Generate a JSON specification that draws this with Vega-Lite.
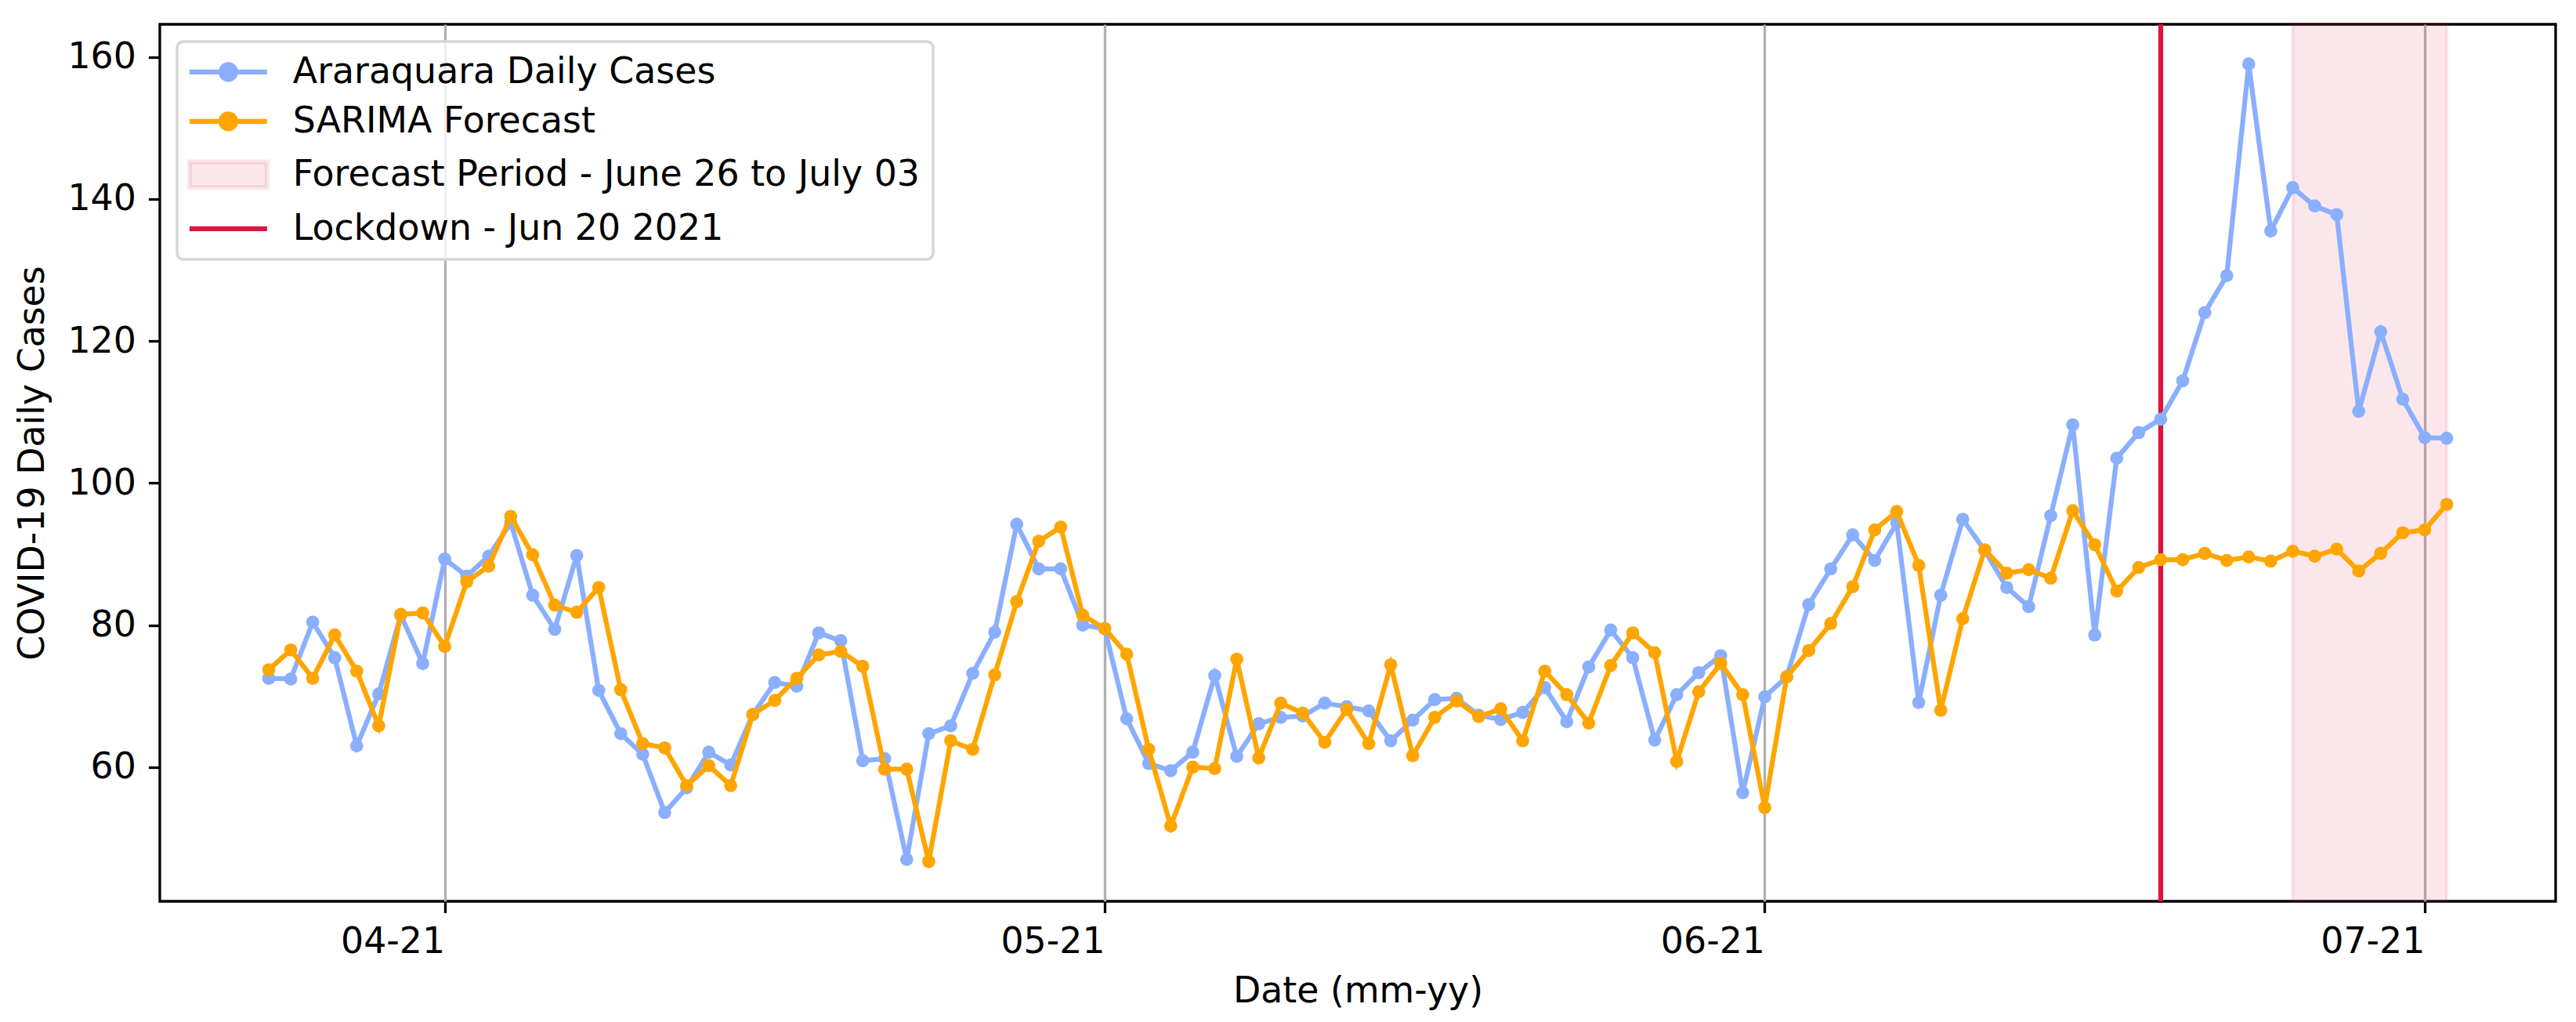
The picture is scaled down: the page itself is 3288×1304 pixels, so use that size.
{
  "$schema": "https://vega.github.io/schema/vega-lite/v6.json",
  "width": 3058,
  "height": 1119,
  "autosize": {"type": "none"},
  "padding": {"left": 204, "top": 31, "right": 26, "bottom": 154},
  "background": "white",
  "datasets": {
    "obs": [
      {"date": "2021-03-26", "value": 72.5, "series": "Araraquara Daily Cases"},
      {"date": "2021-03-27", "value": 72.4, "series": "Araraquara Daily Cases"},
      {"date": "2021-03-28", "value": 80.4, "series": "Araraquara Daily Cases"},
      {"date": "2021-03-29", "value": 75.4, "series": "Araraquara Daily Cases"},
      {"date": "2021-03-30", "value": 63.0, "series": "Araraquara Daily Cases"},
      {"date": "2021-03-31", "value": 70.3, "series": "Araraquara Daily Cases"},
      {"date": "2021-04-01", "value": 81.4, "series": "Araraquara Daily Cases"},
      {"date": "2021-04-02", "value": 74.6, "series": "Araraquara Daily Cases"},
      {"date": "2021-04-03", "value": 89.3, "series": "Araraquara Daily Cases"},
      {"date": "2021-04-04", "value": 86.9, "series": "Araraquara Daily Cases"},
      {"date": "2021-04-05", "value": 89.7, "series": "Araraquara Daily Cases"},
      {"date": "2021-04-06", "value": 94.4, "series": "Araraquara Daily Cases"},
      {"date": "2021-04-07", "value": 84.2, "series": "Araraquara Daily Cases"},
      {"date": "2021-04-08", "value": 79.4, "series": "Araraquara Daily Cases"},
      {"date": "2021-04-09", "value": 89.8, "series": "Araraquara Daily Cases"},
      {"date": "2021-04-10", "value": 70.8, "series": "Araraquara Daily Cases"},
      {"date": "2021-04-11", "value": 64.7, "series": "Araraquara Daily Cases"},
      {"date": "2021-04-12", "value": 61.8, "series": "Araraquara Daily Cases"},
      {"date": "2021-04-13", "value": 53.6, "series": "Araraquara Daily Cases"},
      {"date": "2021-04-14", "value": 57.1, "series": "Araraquara Daily Cases"},
      {"date": "2021-04-15", "value": 62.1, "series": "Araraquara Daily Cases"},
      {"date": "2021-04-16", "value": 60.3, "series": "Araraquara Daily Cases"},
      {"date": "2021-04-17", "value": 67.4, "series": "Araraquara Daily Cases"},
      {"date": "2021-04-18", "value": 71.9, "series": "Araraquara Daily Cases"},
      {"date": "2021-04-19", "value": 71.4, "series": "Araraquara Daily Cases"},
      {"date": "2021-04-20", "value": 78.9, "series": "Araraquara Daily Cases"},
      {"date": "2021-04-21", "value": 77.8, "series": "Araraquara Daily Cases"},
      {"date": "2021-04-22", "value": 60.9, "series": "Araraquara Daily Cases"},
      {"date": "2021-04-23", "value": 61.2, "series": "Araraquara Daily Cases"},
      {"date": "2021-04-24", "value": 47.0, "series": "Araraquara Daily Cases"},
      {"date": "2021-04-25", "value": 64.7, "series": "Araraquara Daily Cases"},
      {"date": "2021-04-26", "value": 65.8, "series": "Araraquara Daily Cases"},
      {"date": "2021-04-27", "value": 73.2, "series": "Araraquara Daily Cases"},
      {"date": "2021-04-28", "value": 79.0, "series": "Araraquara Daily Cases"},
      {"date": "2021-04-29", "value": 94.2, "series": "Araraquara Daily Cases"},
      {"date": "2021-04-30", "value": 87.9, "series": "Araraquara Daily Cases"},
      {"date": "2021-05-01", "value": 87.9, "series": "Araraquara Daily Cases"},
      {"date": "2021-05-02", "value": 80.0, "series": "Araraquara Daily Cases"},
      {"date": "2021-05-03", "value": 79.5, "series": "Araraquara Daily Cases"},
      {"date": "2021-05-04", "value": 66.8, "series": "Araraquara Daily Cases"},
      {"date": "2021-05-05", "value": 60.5, "series": "Araraquara Daily Cases"},
      {"date": "2021-05-06", "value": 59.5, "series": "Araraquara Daily Cases"},
      {"date": "2021-05-07", "value": 62.1, "series": "Araraquara Daily Cases"},
      {"date": "2021-05-08", "value": 72.9, "series": "Araraquara Daily Cases"},
      {"date": "2021-05-09", "value": 61.5, "series": "Araraquara Daily Cases"},
      {"date": "2021-05-10", "value": 66.1, "series": "Araraquara Daily Cases"},
      {"date": "2021-05-11", "value": 67.0, "series": "Araraquara Daily Cases"},
      {"date": "2021-05-12", "value": 67.2, "series": "Araraquara Daily Cases"},
      {"date": "2021-05-13", "value": 69.0, "series": "Araraquara Daily Cases"},
      {"date": "2021-05-14", "value": 68.5, "series": "Araraquara Daily Cases"},
      {"date": "2021-05-15", "value": 67.9, "series": "Araraquara Daily Cases"},
      {"date": "2021-05-16", "value": 63.7, "series": "Araraquara Daily Cases"},
      {"date": "2021-05-17", "value": 66.6, "series": "Araraquara Daily Cases"},
      {"date": "2021-05-18", "value": 69.5, "series": "Araraquara Daily Cases"},
      {"date": "2021-05-19", "value": 69.7, "series": "Araraquara Daily Cases"},
      {"date": "2021-05-20", "value": 67.3, "series": "Araraquara Daily Cases"},
      {"date": "2021-05-21", "value": 66.7, "series": "Araraquara Daily Cases"},
      {"date": "2021-05-22", "value": 67.7, "series": "Araraquara Daily Cases"},
      {"date": "2021-05-23", "value": 71.2, "series": "Araraquara Daily Cases"},
      {"date": "2021-05-24", "value": 66.4, "series": "Araraquara Daily Cases"},
      {"date": "2021-05-25", "value": 74.1, "series": "Araraquara Daily Cases"},
      {"date": "2021-05-26", "value": 79.3, "series": "Araraquara Daily Cases"},
      {"date": "2021-05-27", "value": 75.4, "series": "Araraquara Daily Cases"},
      {"date": "2021-05-28", "value": 63.8, "series": "Araraquara Daily Cases"},
      {"date": "2021-05-29", "value": 70.2, "series": "Araraquara Daily Cases"},
      {"date": "2021-05-30", "value": 73.3, "series": "Araraquara Daily Cases"},
      {"date": "2021-05-31", "value": 75.7, "series": "Araraquara Daily Cases"},
      {"date": "2021-06-01", "value": 56.4, "series": "Araraquara Daily Cases"},
      {"date": "2021-06-02", "value": 69.9, "series": "Araraquara Daily Cases"},
      {"date": "2021-06-03", "value": 72.7, "series": "Araraquara Daily Cases"},
      {"date": "2021-06-04", "value": 82.9, "series": "Araraquara Daily Cases"},
      {"date": "2021-06-05", "value": 87.9, "series": "Araraquara Daily Cases"},
      {"date": "2021-06-06", "value": 92.7, "series": "Araraquara Daily Cases"},
      {"date": "2021-06-07", "value": 89.1, "series": "Araraquara Daily Cases"},
      {"date": "2021-06-08", "value": 94.4, "series": "Araraquara Daily Cases"},
      {"date": "2021-06-09", "value": 69.1, "series": "Araraquara Daily Cases"},
      {"date": "2021-06-10", "value": 84.2, "series": "Araraquara Daily Cases"},
      {"date": "2021-06-11", "value": 94.9, "series": "Araraquara Daily Cases"},
      {"date": "2021-06-12", "value": 90.5, "series": "Araraquara Daily Cases"},
      {"date": "2021-06-13", "value": 85.3, "series": "Araraquara Daily Cases"},
      {"date": "2021-06-14", "value": 82.6, "series": "Araraquara Daily Cases"},
      {"date": "2021-06-15", "value": 95.4, "series": "Araraquara Daily Cases"},
      {"date": "2021-06-16", "value": 108.2, "series": "Araraquara Daily Cases"},
      {"date": "2021-06-17", "value": 78.6, "series": "Araraquara Daily Cases"},
      {"date": "2021-06-18", "value": 103.5, "series": "Araraquara Daily Cases"},
      {"date": "2021-06-19", "value": 107.1, "series": "Araraquara Daily Cases"},
      {"date": "2021-06-20", "value": 109.0, "series": "Araraquara Daily Cases"},
      {"date": "2021-06-21", "value": 114.4, "series": "Araraquara Daily Cases"},
      {"date": "2021-06-22", "value": 124.0, "series": "Araraquara Daily Cases"},
      {"date": "2021-06-23", "value": 129.2, "series": "Araraquara Daily Cases"},
      {"date": "2021-06-24", "value": 159.0, "series": "Araraquara Daily Cases"},
      {"date": "2021-06-25", "value": 135.5, "series": "Araraquara Daily Cases"},
      {"date": "2021-06-26", "value": 141.6, "series": "Araraquara Daily Cases"},
      {"date": "2021-06-27", "value": 139.0, "series": "Araraquara Daily Cases"},
      {"date": "2021-06-28", "value": 137.8, "series": "Araraquara Daily Cases"},
      {"date": "2021-06-29", "value": 110.1, "series": "Araraquara Daily Cases"},
      {"date": "2021-06-30", "value": 121.3, "series": "Araraquara Daily Cases"},
      {"date": "2021-07-01", "value": 111.8, "series": "Araraquara Daily Cases"},
      {"date": "2021-07-02", "value": 106.4, "series": "Araraquara Daily Cases"},
      {"date": "2021-07-03", "value": 106.3, "series": "Araraquara Daily Cases"}
    ],
    "fc": [
      {"date": "2021-03-26", "value": 73.7, "series": "SARIMA Forecast"},
      {"date": "2021-03-27", "value": 76.5, "series": "SARIMA Forecast"},
      {"date": "2021-03-28", "value": 72.5, "series": "SARIMA Forecast"},
      {"date": "2021-03-29", "value": 78.6, "series": "SARIMA Forecast"},
      {"date": "2021-03-30", "value": 73.5, "series": "SARIMA Forecast"},
      {"date": "2021-03-31", "value": 65.8, "series": "SARIMA Forecast"},
      {"date": "2021-04-01", "value": 81.5, "series": "SARIMA Forecast"},
      {"date": "2021-04-02", "value": 81.7, "series": "SARIMA Forecast"},
      {"date": "2021-04-03", "value": 77.0, "series": "SARIMA Forecast"},
      {"date": "2021-04-04", "value": 86.1, "series": "SARIMA Forecast"},
      {"date": "2021-04-05", "value": 88.3, "series": "SARIMA Forecast"},
      {"date": "2021-04-06", "value": 95.3, "series": "SARIMA Forecast"},
      {"date": "2021-04-07", "value": 89.9, "series": "SARIMA Forecast"},
      {"date": "2021-04-08", "value": 82.8, "series": "SARIMA Forecast"},
      {"date": "2021-04-09", "value": 81.8, "series": "SARIMA Forecast"},
      {"date": "2021-04-10", "value": 85.3, "series": "SARIMA Forecast"},
      {"date": "2021-04-11", "value": 70.9, "series": "SARIMA Forecast"},
      {"date": "2021-04-12", "value": 63.3, "series": "SARIMA Forecast"},
      {"date": "2021-04-13", "value": 62.7, "series": "SARIMA Forecast"},
      {"date": "2021-04-14", "value": 57.4, "series": "SARIMA Forecast"},
      {"date": "2021-04-15", "value": 60.2, "series": "SARIMA Forecast"},
      {"date": "2021-04-16", "value": 57.4, "series": "SARIMA Forecast"},
      {"date": "2021-04-17", "value": 67.4, "series": "SARIMA Forecast"},
      {"date": "2021-04-18", "value": 69.4, "series": "SARIMA Forecast"},
      {"date": "2021-04-19", "value": 72.5, "series": "SARIMA Forecast"},
      {"date": "2021-04-20", "value": 75.8, "series": "SARIMA Forecast"},
      {"date": "2021-04-21", "value": 76.3, "series": "SARIMA Forecast"},
      {"date": "2021-04-22", "value": 74.2, "series": "SARIMA Forecast"},
      {"date": "2021-04-23", "value": 59.7, "series": "SARIMA Forecast"},
      {"date": "2021-04-24", "value": 59.7, "series": "SARIMA Forecast"},
      {"date": "2021-04-25", "value": 46.7, "series": "SARIMA Forecast"},
      {"date": "2021-04-26", "value": 63.7, "series": "SARIMA Forecast"},
      {"date": "2021-04-27", "value": 62.5, "series": "SARIMA Forecast"},
      {"date": "2021-04-28", "value": 73.0, "series": "SARIMA Forecast"},
      {"date": "2021-04-29", "value": 83.3, "series": "SARIMA Forecast"},
      {"date": "2021-04-30", "value": 91.8, "series": "SARIMA Forecast"},
      {"date": "2021-05-01", "value": 93.8, "series": "SARIMA Forecast"},
      {"date": "2021-05-02", "value": 81.4, "series": "SARIMA Forecast"},
      {"date": "2021-05-03", "value": 79.5, "series": "SARIMA Forecast"},
      {"date": "2021-05-04", "value": 75.9, "series": "SARIMA Forecast"},
      {"date": "2021-05-05", "value": 62.5, "series": "SARIMA Forecast"},
      {"date": "2021-05-06", "value": 51.7, "series": "SARIMA Forecast"},
      {"date": "2021-05-07", "value": 60.0, "series": "SARIMA Forecast"},
      {"date": "2021-05-08", "value": 59.8, "series": "SARIMA Forecast"},
      {"date": "2021-05-09", "value": 75.2, "series": "SARIMA Forecast"},
      {"date": "2021-05-10", "value": 61.3, "series": "SARIMA Forecast"},
      {"date": "2021-05-11", "value": 69.0, "series": "SARIMA Forecast"},
      {"date": "2021-05-12", "value": 67.6, "series": "SARIMA Forecast"},
      {"date": "2021-05-13", "value": 63.5, "series": "SARIMA Forecast"},
      {"date": "2021-05-14", "value": 68.1, "series": "SARIMA Forecast"},
      {"date": "2021-05-15", "value": 63.3, "series": "SARIMA Forecast"},
      {"date": "2021-05-16", "value": 74.4, "series": "SARIMA Forecast"},
      {"date": "2021-05-17", "value": 61.6, "series": "SARIMA Forecast"},
      {"date": "2021-05-18", "value": 67.0, "series": "SARIMA Forecast"},
      {"date": "2021-05-19", "value": 69.3, "series": "SARIMA Forecast"},
      {"date": "2021-05-20", "value": 67.1, "series": "SARIMA Forecast"},
      {"date": "2021-05-21", "value": 68.2, "series": "SARIMA Forecast"},
      {"date": "2021-05-22", "value": 63.7, "series": "SARIMA Forecast"},
      {"date": "2021-05-23", "value": 73.5, "series": "SARIMA Forecast"},
      {"date": "2021-05-24", "value": 70.2, "series": "SARIMA Forecast"},
      {"date": "2021-05-25", "value": 66.2, "series": "SARIMA Forecast"},
      {"date": "2021-05-26", "value": 74.3, "series": "SARIMA Forecast"},
      {"date": "2021-05-27", "value": 78.9, "series": "SARIMA Forecast"},
      {"date": "2021-05-28", "value": 76.1, "series": "SARIMA Forecast"},
      {"date": "2021-05-29", "value": 60.8, "series": "SARIMA Forecast"},
      {"date": "2021-05-30", "value": 70.6, "series": "SARIMA Forecast"},
      {"date": "2021-05-31", "value": 74.6, "series": "SARIMA Forecast"},
      {"date": "2021-06-01", "value": 70.2, "series": "SARIMA Forecast"},
      {"date": "2021-06-02", "value": 54.3, "series": "SARIMA Forecast"},
      {"date": "2021-06-03", "value": 72.7, "series": "SARIMA Forecast"},
      {"date": "2021-06-04", "value": 76.4, "series": "SARIMA Forecast"},
      {"date": "2021-06-05", "value": 80.2, "series": "SARIMA Forecast"},
      {"date": "2021-06-06", "value": 85.4, "series": "SARIMA Forecast"},
      {"date": "2021-06-07", "value": 93.4, "series": "SARIMA Forecast"},
      {"date": "2021-06-08", "value": 96.0, "series": "SARIMA Forecast"},
      {"date": "2021-06-09", "value": 88.4, "series": "SARIMA Forecast"},
      {"date": "2021-06-10", "value": 68.0, "series": "SARIMA Forecast"},
      {"date": "2021-06-11", "value": 80.9, "series": "SARIMA Forecast"},
      {"date": "2021-06-12", "value": 90.6, "series": "SARIMA Forecast"},
      {"date": "2021-06-13", "value": 87.3, "series": "SARIMA Forecast"},
      {"date": "2021-06-14", "value": 87.8, "series": "SARIMA Forecast"},
      {"date": "2021-06-15", "value": 86.6, "series": "SARIMA Forecast"},
      {"date": "2021-06-16", "value": 96.1, "series": "SARIMA Forecast"},
      {"date": "2021-06-17", "value": 91.3, "series": "SARIMA Forecast"},
      {"date": "2021-06-18", "value": 84.8, "series": "SARIMA Forecast"},
      {"date": "2021-06-19", "value": 88.1, "series": "SARIMA Forecast"},
      {"date": "2021-06-20", "value": 89.2, "series": "SARIMA Forecast"},
      {"date": "2021-06-21", "value": 89.2, "series": "SARIMA Forecast"},
      {"date": "2021-06-22", "value": 90.1, "series": "SARIMA Forecast"},
      {"date": "2021-06-23", "value": 89.1, "series": "SARIMA Forecast"},
      {"date": "2021-06-24", "value": 89.6, "series": "SARIMA Forecast"},
      {"date": "2021-06-25", "value": 89.0, "series": "SARIMA Forecast"},
      {"date": "2021-06-26", "value": 90.4, "series": "SARIMA Forecast"},
      {"date": "2021-06-27", "value": 89.7, "series": "SARIMA Forecast"},
      {"date": "2021-06-28", "value": 90.7, "series": "SARIMA Forecast"},
      {"date": "2021-06-29", "value": 87.6, "series": "SARIMA Forecast"},
      {"date": "2021-06-30", "value": 90.1, "series": "SARIMA Forecast"},
      {"date": "2021-07-01", "value": 93.0, "series": "SARIMA Forecast"},
      {"date": "2021-07-02", "value": 93.4, "series": "SARIMA Forecast"},
      {"date": "2021-07-03", "value": 97.0, "series": "SARIMA Forecast"}
    ],
    "period": [
      {"date": "2021-06-26", "date2": "2021-07-03", "series": "Forecast Period - June 26 to July 03"}
    ],
    "lockdown": [
      {"date": "2021-06-20", "series": "Lockdown - Jun 20 2021"}
    ]
  },
  "encoding": {
    "x": {
      "field": "date", "type": "temporal", "title": "Date (mm-yy)",
      "scale": {
        "type": "utc",
        "domain": [
          {"year": 2021, "month": 3, "date": 21, "hours": 1, "minutes": 12, "utc": true},
          {"year": 2021, "month": 7, "date": 7, "hours": 22, "minutes": 48, "utc": true}
        ]
      },
      "axis": {
        "values": [
          {"year": 2021, "month": 4, "date": 3, "utc": true},
          {"year": 2021, "month": 5, "date": 3, "utc": true},
          {"year": 2021, "month": 6, "date": 2, "utc": true},
          {"year": 2021, "month": 7, "date": 2, "utc": true}
        ],
        "format": "%m-%y",
        "grid": true,
        "gridColor": "#b0b0b0",
        "gridWidth": 3.3,
        "labelAngle": 0,
        "labelAlign": "right",
        "labelPadding": 15,
        "labelOverlap": false,
        "labelFlush": false,
        "titlePadding": 18
      }
    },
    "color": {
      "field": "series", "type": "nominal",
      "scale": {
        "domain": ["Araraquara Daily Cases", "SARIMA Forecast", "Forecast Period - June 26 to July 03", "Lockdown - Jun 20 2021"],
        "range": ["#8aafff", "#ffa500", "#dc143c", "#dc143c"]
      },
      "legend": {
        "title": null,
        "orient": "top-left",
        "direction": "vertical",
        "offset": 22,
        "padding": 16,
        "rowPadding": 16,
        "fillColor": "rgba(255,255,255,0.8)",
        "strokeColor": "#d6d6d6",
        "cornerRadius": 8,
        "symbolSize": 1296,
        "symbolStrokeWidth": 6.25,
        "labelFontSize": 45.83,
        "labelFont": "DejaVu Sans",
        "labelColor": "black",
        "labelOffset": 86,
        "labelLimit": 0,
        "encode": {
          "legend": {"update": {"strokeWidth": {"value": 3.5}}},
          "symbols": {
            "update": {
              "shape": {"signal": "datum.value == 'Forecast Period - June 26 to July 03' ? 'M-1.278,-0.9H4.222V0.9H-1.278Z' : (datum.value == 'Lockdown - Jun 20 2021' ? 'M-1.278,0H4.222' : 'M-1.278,0H4.222M0.947,0A0.525,0.525 0 1,0 1.997,0A0.525,0.525 0 1,0 0.947,0')"},
              "fill": {"signal": "scale('color', datum.value)"},
              "stroke": {"signal": "scale('color', datum.value)"},
              "fillOpacity": {"signal": "datum.value == 'Forecast Period - June 26 to July 03' ? 0.1 : 1"},
              "strokeOpacity": {"signal": "datum.value == 'Forecast Period - June 26 to July 03' ? 0.1 : 1"},
              "opacity": {"value": 1}
            }
          }
        }
      }
    }
  },
  "layer": [
    {
      "data": {"name": "period"},
      "mark": {"type": "rect", "fillOpacity": 0.1, "stroke": "#dc143c", "strokeOpacity": 0.1, "strokeWidth": 4},
      "encoding": {
        "x2": {"field": "date2"}
      }
    },
    {
      "data": {"name": "lockdown"},
      "mark": {"type": "rule", "strokeWidth": 6.25},
      "encoding": {}
    },
    {
      "data": {"name": "obs"},
      "mark": {"type": "line", "strokeWidth": 6.25, "point": {"filled": true, "size": 280, "opacity": 1}},
      "encoding": {
        "y": {
          "field": "value", "type": "quantitative", "title": "COVID-19 Daily Cases",
          "scale": {"domain": [41.1, 164.6], "nice": false, "zero": false},
          "axis": {"values": [60, 80, 100, 120, 140, 160], "grid": false, "labelPadding": 16, "titlePadding": 20}
        }
      }
    },
    {
      "data": {"name": "fc"},
      "mark": {"type": "line", "strokeWidth": 6.25, "point": {"filled": true, "size": 280, "opacity": 1}},
      "encoding": {
        "y": {"field": "value", "type": "quantitative"}
      }
    }
  ],
  "config": {
    "font": "DejaVu Sans",
    "view": {"stroke": "black", "strokeWidth": 3.3},
    "axis": {
      "domain": false,
      "tickColor": "black",
      "tickWidth": 3.3,
      "tickSize": 14.6,
      "labelFont": "DejaVu Sans",
      "titleFont": "DejaVu Sans",
      "labelFontSize": 45.83,
      "titleFontSize": 45.83,
      "labelColor": "black",
      "titleColor": "black",
      "titleFontWeight": "normal"
    }
  }
}
